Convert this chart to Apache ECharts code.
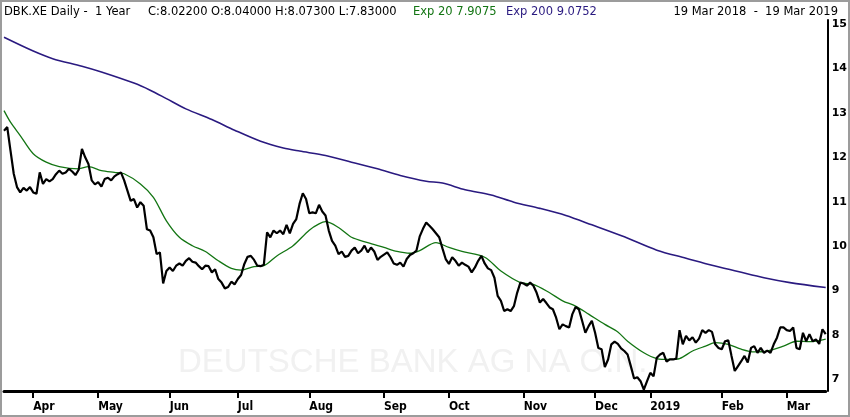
<!DOCTYPE html>
<html>
<head>
<meta charset="utf-8">
<script src="https://cdn.jsdelivr.net/npm/echarts@6/dist/echarts.min.js"></script>
<style>
  html, body { margin: 0; padding: 0; background: #fff; }
  #chart { width: 850px; height: 417px; }
</style>
</head>
<body>
<div id="chart"></div>
<script>
// trading calendar (Xetra), 19 Mar 2018 - 19 Mar 2019
var firstDay = '2018-03-19';
var lastDay = '2019-03-19';
var holidays = ['2018-03-30', '2018-04-02', '2018-05-01', '2018-12-24',
                '2018-12-25', '2018-12-26', '2018-12-31', '2019-01-01'];
var monthNames = ['Jan', 'Feb', 'Mar', 'Apr', 'May', 'Jun', 'Jul', 'Aug', 'Sep', 'Oct', 'Nov', 'Dec'];
var yLabels = [7, 8, 9, 10, 11, 12, 13, 14, 15];

// daily close, one per trading day
var closes = [
  12.60, 12.68, 12.15, 11.63, 11.33, 11.21, 11.31, 11.25, 11.33, 11.21,
  11.18, 11.66, 11.40, 11.51, 11.46, 11.51, 11.62, 11.70, 11.63, 11.66,
  11.74, 11.68, 11.60, 11.72, 12.19, 12.00, 11.85, 11.48, 11.39, 11.44,
  11.34, 11.51, 11.54, 11.48, 11.57, 11.62, 11.66, 11.48, 11.25, 11.02,
  11.06, 10.87, 10.99, 10.91, 10.38, 10.35, 10.20, 9.82, 9.86, 9.16,
  9.44, 9.52, 9.44, 9.56, 9.61, 9.56, 9.67, 9.73, 9.65, 9.63,
  9.55, 9.48, 9.56, 9.55, 9.41, 9.48, 9.26, 9.18, 9.05, 9.08,
  9.20, 9.14, 9.26, 9.35, 9.60, 9.76, 9.78, 9.69, 9.56, 9.55,
  9.58, 10.31, 10.20, 10.35, 10.29, 10.35, 10.27, 10.48, 10.29, 10.50,
  10.61, 10.95, 11.19, 11.06, 10.74, 10.76, 10.74, 10.93, 10.78, 10.69,
  10.35, 10.12, 10.01, 9.82, 9.88, 9.76, 9.78, 9.90, 9.97, 9.84,
  9.90, 10.01, 9.86, 9.97, 9.88, 9.69, 9.76, 9.81, 9.86, 9.75,
  9.61, 9.58, 9.63, 9.54, 9.71, 9.80, 9.84, 9.90, 10.22, 10.39,
  10.53, 10.46, 10.38, 10.29, 10.20, 9.95, 9.71, 9.60, 9.75, 9.67,
  9.56, 9.63, 9.58, 9.54, 9.41, 9.52, 9.67, 9.78, 9.61, 9.50,
  9.46, 9.29, 8.88, 8.77, 8.54, 8.58, 8.54, 8.65, 8.95, 9.18,
  9.16, 9.11, 9.18, 9.11, 8.95, 8.73, 8.81, 8.72, 8.62, 8.58,
  8.39, 8.13, 8.24, 8.20, 8.17, 8.47, 8.63, 8.58, 8.32, 8.05,
  8.20, 8.32, 8.05, 7.71, 7.68, 7.28, 7.45, 7.79, 7.85, 7.80,
  7.70, 7.64, 7.56, 7.30, 7.02, 7.05, 6.96, 6.77, 6.96, 7.15,
  7.07, 7.49, 7.56, 7.60, 7.40, 7.45, 7.45, 7.47, 8.11, 7.79,
  7.98, 7.88, 7.95, 7.83, 7.92, 8.11, 8.05, 8.11, 8.07, 7.79,
  7.71, 7.68, 7.86, 7.88, 7.53, 7.19, 7.30, 7.41, 7.53, 7.38,
  7.71, 7.75, 7.60, 7.71, 7.60, 7.65, 7.60, 7.79, 7.94, 8.17,
  8.17, 8.11, 8.09, 8.17, 7.71, 7.68, 8.05, 7.86, 8.02, 7.86,
  7.90, 7.80, 8.13, 8.02
];

// exp. moving averages: [trading day index, value]
var ema20 = [
  [0, 13.05], [2, 12.79], [5, 12.49], [9, 12.08], [13, 11.89], [17, 11.79],
  [23, 11.74], [26, 11.79], [30, 11.70], [34, 11.66], [37, 11.63], [42, 11.40],
  [46, 11.10], [50, 10.57], [54, 10.20], [58, 10.01], [62, 9.88], [66, 9.67],
  [70, 9.50], [73, 9.46], [77, 9.54], [80, 9.56], [84, 9.78], [89, 10.01],
  [94, 10.36], [97, 10.50], [99, 10.55], [103, 10.42], [107, 10.20], [112, 10.08],
  [117, 9.97], [121, 9.88], [125, 9.84], [128, 9.90], [133, 10.08], [137, 9.97],
  [141, 9.88], [148, 9.75], [153, 9.44], [159, 9.18], [163, 9.14], [168, 8.95],
  [172, 8.77], [176, 8.65], [180, 8.47], [185, 8.24], [189, 8.07], [192, 7.86],
  [197, 7.60], [201, 7.47], [205, 7.45], [208, 7.47], [212, 7.64], [216, 7.75],
  [219, 7.83], [223, 7.79], [227, 7.68], [231, 7.62], [235, 7.64], [240, 7.75],
  [244, 7.86], [248, 7.85], [253, 7.91]
];
var ema200 = [
  [0, 14.70], [9, 14.39], [15, 14.22], [24, 14.05], [30, 13.92], [40, 13.67],
  [45, 13.51], [50, 13.32], [56, 13.09], [64, 12.85], [71, 12.61], [79, 12.36],
  [86, 12.21], [91, 12.14], [99, 12.04], [107, 11.89], [115, 11.74], [122, 11.59],
  [130, 11.46], [135, 11.42], [142, 11.27], [150, 11.15], [157, 10.99], [165, 10.85],
  [173, 10.69], [181, 10.48], [191, 10.21], [201, 9.91], [210, 9.73], [218, 9.57],
  [226, 9.43], [234, 9.29], [242, 9.18], [253, 9.07]
];

var dates = [];
var d = new Date(firstDay + 'T00:00:00Z');
var end = new Date(lastDay + 'T00:00:00Z');
while (d <= end) {
  var s = d.toISOString().slice(0, 10);
  var wd = d.getUTCDay();
  if (wd !== 0 && wd !== 6 && holidays.indexOf(s) < 0) dates.push(s);
  d.setUTCDate(d.getUTCDate() + 1);
}

function monthStart(index, value) {
  return index > 0 && value.slice(5, 7) !== dates[index - 1].slice(5, 7);
}

var chart = echarts.init(document.getElementById('chart'));
var hdr = '11.5px "DejaVu Sans", sans-serif';
var green = '#137513';
var navy = '#2a1a80';

var option = {
  animation: false,
  backgroundColor: '#fff',
  grid: { left: 4, right: 24, top: 20, bottom: 26 },
  xAxis: {
    type: 'category',
    data: dates,
    boundaryGap: false,
    axisLine: { lineStyle: { color: '#000', width: 3 } },
    axisTick: { interval: monthStart, length: 7, lineStyle: { color: '#000', width: 2 } },
    axisLabel: {
      interval: monthStart,
      align: 'left',
      margin: 10,
      color: '#000',
      fontSize: 12,
      fontWeight: 'bold',
      fontFamily: "'Liberation Sans Narrow', 'DejaVu Sans Condensed', sans-serif",
      formatter: function (v) {
        var m = +v.slice(5, 7);
        return m === 1 ? v.slice(0, 4) : monthNames[m - 1];
      }
    },
    splitLine: { show: false }
  },
  yAxis: {
    type: 'value',
    position: 'right',
    offset: 2,
    min: 6.74,
    max: 15.09,
    axisLine: { show: true, lineStyle: { color: '#000', width: 2 } },
    axisTick: { show: false },
    splitLine: { show: false },
    axisLabel: {
      customValues: yLabels,
      margin: 4,
      color: '#000',
      fontSize: 11,
      fontWeight: 'bold',
      fontFamily: "'DejaVu Sans', sans-serif"
    }
  },
  graphic: [
    {
      type: 'text', x: 178, y: 363, z: -10, silent: true,
      style: {
        text: 'DEUTSCHE BANK AG NA O.N.', fill: '#f1f1f1',
        font: '33px "Liberation Sans"', verticalAlign: 'middle'
      }
    },
    { type: 'text', x: 4, y: 12, style: { text: 'DBK.XE Daily -  1 Year', fill: '#000', font: hdr, verticalAlign: 'middle' } },
    { type: 'text', x: 148, y: 12, style: { text: 'C:8.02200 O:8.04000 H:8.07300 L:7.83000', fill: '#000', font: hdr, verticalAlign: 'middle' } },
    { type: 'text', x: 413, y: 12, style: { text: 'Exp 20 7.9075', fill: green, font: hdr, verticalAlign: 'middle' } },
    { type: 'text', x: 506, y: 12, style: { text: 'Exp 200 9.0752', fill: navy, font: hdr, verticalAlign: 'middle' } },
    { type: 'text', x: 838, y: 12, style: { text: '19 Mar 2018  -  19 Mar 2019', fill: '#000', font: hdr, align: 'right', verticalAlign: 'middle' } },
    {
      type: 'rect', z: 100, silent: true,
      shape: { x: 1, y: 1, width: 848, height: 415 },
      style: { fill: null, stroke: '#9c9c9c', lineWidth: 2 }
    }
  ],
  series: [
    {
      name: 'Exp 200', type: 'line', data: ema200, smooth: 0.3, showSymbol: false,
      lineStyle: { color: navy, width: 1.6 }, z: 2
    },
    {
      name: 'Exp 20', type: 'line', data: ema20, smooth: 0.3, showSymbol: false,
      lineStyle: { color: green, width: 1.3 }, z: 3
    },
    {
      name: 'Close', type: 'line', data: closes, showSymbol: false,
      lineStyle: { color: '#000', width: 2.2 }, z: 4
    }
  ]
};

chart.setOption(option);
</script>
</body>
</html>
